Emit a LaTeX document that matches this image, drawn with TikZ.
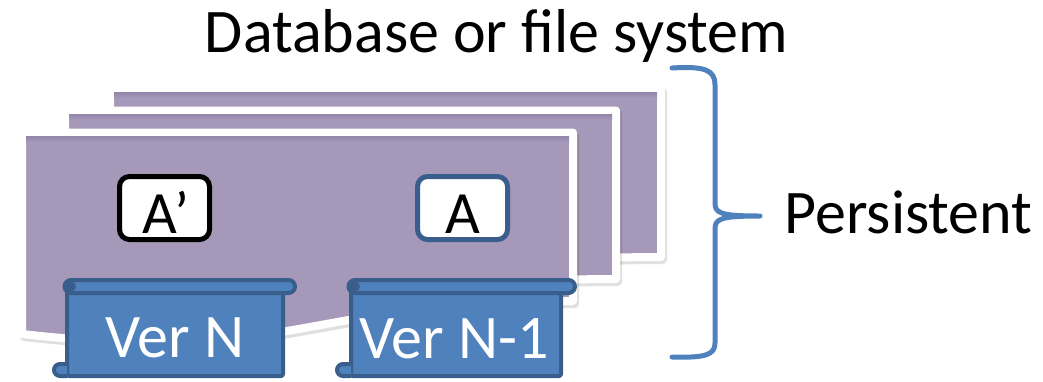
\documentclass[tikz,border=0pt]{standalone}
\usepackage{fontspec}
\setmainfont{Carlito}
\definecolor{docpurple}{HTML}{A698B9}
\definecolor{docdark}{HTML}{9487AB}
\definecolor{scrollfill}{HTML}{4F81BD}
\definecolor{scrollline}{HTML}{3A5E8C}
\definecolor{bracecol}{HTML}{4F81BD}
\tikzset{
  doc/.style={fill=docpurple, draw=white, line width=8pt, line join=round},
  docshadow/.style={fill=black, draw=black, line width=8pt, line join=round, opacity=0.12},
  scroll/.style={fill=scrollfill, draw=scrollline, line width=4pt, line join=round},
  bigtext/.style={font=\fontsize{62}{62}\selectfont},
  boxtext/.style={font=\fontsize{60}{60}\selectfont, anchor=base},
  itembox/.style={fill=white, line width=5pt, rounded corners=10pt, minimum width=90pt, minimum height=63pt, inner sep=0pt},
}
\newcommand\onedoc[1]{%
\begin{scope}[shift={#1}]
  \begin{scope}[shift={(2,3)}]
    \filldraw[docshadow] (22,132.5) -- (573,132.5) -- (573,301) .. controls (298,301) and (298,365) .. (22,334) -- cycle;
  \end{scope}
  \filldraw[doc] (22,132.5) -- (573,132.5) -- (573,301) .. controls (298,301) and (298,365) .. (22,334) -- cycle;
  \shade[top color=docdark, bottom color=docpurple] (26,136.5) rectangle (569,142);
\end{scope}}
\begin{document}
\begin{tikzpicture}[x=1pt, y=-1pt]
\useasboundingbox (0,0) rectangle (1043,381);
% stacked documents
\onedoc{(88,-44)}
\onedoc{(43,-22)}
\onedoc{(0,0)}
% item boxes
\node[itembox, draw=black] (boxAp) at (164.5,208) {};
\node[boxtext] (txtAp) at (166,233) {A’};
\node[itembox, draw=scrollline] (boxA) at (462.5,208) {};
\node[boxtext] (txtA) at (462.5,233) {A};
% scroll Ver N
\filldraw[scroll, rounded corners=2pt] (67,290) rectangle (283,376);
\filldraw[scroll] (67,364) -- (60,364) arc[start angle=90, end angle=270, radius=6pt] -- (67,376);
\filldraw[scroll] (71,280) -- (288.5,280) arc[start angle=90, end angle=-90, radius=6.5pt] -- (71,293) arc[start angle=270, end angle=90, radius=6.5pt] -- cycle;
\fill[scrollline] (71,286.5) circle (5pt);
\node[bigtext, anchor=base, white] (verN) at (175,357) {Ver N};
% scroll Ver N-1
\filldraw[scroll, rounded corners=2pt] (351,290) rectangle (561,376);
\filldraw[scroll] (351,364) -- (343,364) arc[start angle=90, end angle=270, radius=6pt] -- (351,376);
\filldraw[scroll] (355,280) -- (568.5,280) arc[start angle=90, end angle=-90, radius=6.5pt] -- (355,293) arc[start angle=270, end angle=90, radius=6.5pt] -- cycle;
\fill[scrollline] (355,286.5) circle (5pt);
\node[bigtext, anchor=base, white] (verN1) at (454,358) {Ver N-1};
% brace
\draw[bracecol, line width=5pt, line cap=round, line join=round]
  (672,68) .. controls (705,66) and (715,70) .. (715,85) -- (715,203)
  .. controls (715,213) and (720,216) .. (760,216)
  .. controls (720,216) and (715,219) .. (715,229) -- (715,343)
  .. controls (715,355) and (705,358) .. (672,357);
% texts
\node[bigtext, anchor=base] (title) at (496.5,52) {Database or file system};
\node[bigtext, anchor=base west] (persistent) at (781,233) {Persistent};
\end{tikzpicture}
\end{document}
